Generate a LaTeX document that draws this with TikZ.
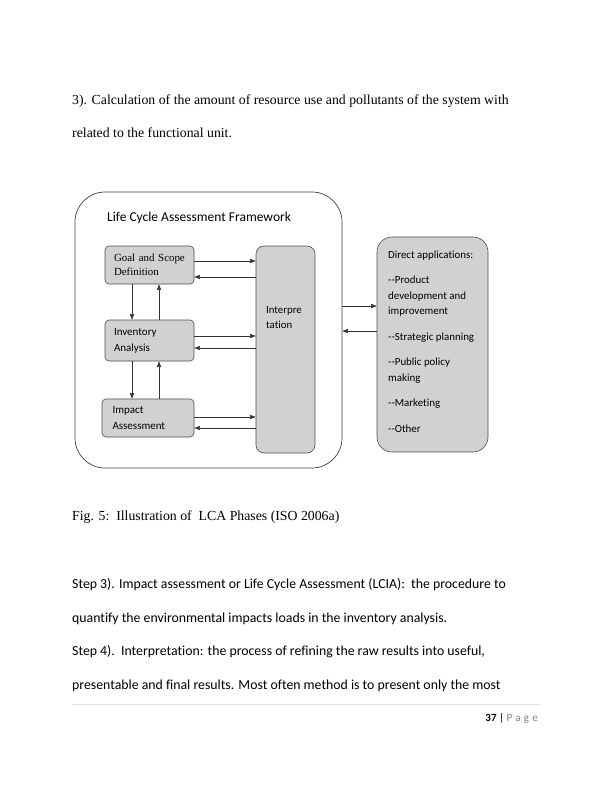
\documentclass[tikz,border=0pt]{standalone}
\usepackage{fontspec}
\setmainfont{Liberation Serif}
\newfontfamily\calibri[Ligatures=NoCommon]{Carlito}
\usetikzlibrary{arrows.meta, positioning}

\begin{document}
\begin{tikzpicture}[
                      x=1pt, y=-1pt,
                      >={Triangle[length=5.5pt, width=4pt]},
                  ]
                  \tikzset{
                      body_txt/.style = {anchor=base west, inner sep=0pt, font=\fontsize{13.8}{16}\selectfont},
                      body_cal/.style = {anchor=base west, inner sep=0pt, font=\calibri\fontsize{13.8}{17}\selectfont},
                      phase/.style = {draw=black!70, fill=black!18, rounded corners=4pt, line width=0.6pt,
                                      minimum width=89pt, minimum height=38pt, inner sep=0pt,
                                      text width=71pt, align=left, font=\calibri\fontsize{11}{16}\selectfont},
                      link/.style = {->, draw=black!80, line width=0.5pt},
                  }

                  \useasboundingbox (0,0) rectangle (612,792);

                  % Text above the figure
                  \node[body_txt] (line1) at (72,104) {3). Calculation of the amount of resource use and pollutants of the system with};
                  \node[body_txt] (line2) at (72,137) {related to the functional unit.};

                  % Framework frame
                  \node[draw=black!75, line width=0.7pt, rounded corners=30pt, minimum width=267pt,
                        minimum height=276pt, inner sep=0pt] (frame) at (208.5,330) {};
                  \node[anchor=west, inner sep=0pt, font=\calibri\fontsize{13.5}{16}\selectfont] (title) at (107,218)
                      {Life Cycle Assessment Framework};

                  % Phases
                  \node[phase, font=\fontsize{10.9}{14}\selectfont] (goal) at (149.5,265) {Goal and Scope\\Definition};
                  \node[phase, minimum height=41pt] (inv) at (149.5,340.5) {Inventory\\Analysis};
                  \node[phase, minimum width=92pt] (impact) at (148,418) {Impact\\Assessment};

                  % Interpretation
                  \node[draw=black!70, fill=black!18, rounded corners=8pt, line width=0.6pt,
                        minimum width=59pt, minimum height=207pt, inner sep=0pt] (interp) at (285.5,349.5) {};
                  \node[anchor=north west, inner sep=0pt, align=left, font=\calibri\fontsize{10.8}{15.5}\selectfont]
                      (interp_txt) at (266,306) {Interpre\\tation};

                  % Direct applications
                  \node[draw=black!70, fill=black!18, rounded corners=15pt, line width=0.6pt,
                        minimum width=111pt, minimum height=215pt, inner sep=0pt] (direct) at (432.5,344.5) {};
                  \node[anchor=north west, inner sep=0pt, align=left, font=\calibri\fontsize{10.9}{15.5}\selectfont]
                      (direct_txt) at (388,250.5) {Direct applications:\\[10pt]
                      -{}-Product\\development and\\improvement\\[10pt]
                      -{}-Strategic planning\\[10pt]
                      -{}-Public policy\\making\\[10pt]
                      -{}-Marketing\\[10pt]
                      -{}-Other};

                  % Phases to and from interpretation
                  \draw[link] ([yshift=4pt]goal.east) -- ([yshift=4pt]goal.east -| interp.west);
                  \draw[link] ([yshift=-12pt]goal.east -| interp.west) -- ([yshift=-12pt]goal.east);
                  \draw[link] ([yshift=4.5pt]inv.east) -- ([yshift=4.5pt]inv.east -| interp.west);
                  \draw[link] ([yshift=-7.5pt]inv.east -| interp.west) -- ([yshift=-7.5pt]inv.east);
                  \draw[link] ([yshift=1pt]impact.east) -- ([yshift=1pt]impact.east -| interp.west);
                  \draw[link] ([yshift=-10pt]impact.east -| interp.west) -- ([yshift=-10pt]impact.east);

                  % Between phases
                  \draw[link] ([xshift=-17.5pt]goal.south) -- ([xshift=-17.5pt]goal.south |- inv.north);
                  \draw[link] ([xshift=9.5pt]inv.north) -- ([xshift=9.5pt]inv.north |- goal.south);
                  \draw[link] ([xshift=-17.5pt]inv.south) -- ([xshift=-17.5pt]inv.south |- impact.north);
                  \draw[link] ([xshift=9.5pt]impact.north -| inv.south) -- ([xshift=9.5pt]inv.south);

                  % Framework to and from applications
                  \draw[link] ([yshift=24pt]frame.east) -- ([yshift=24pt]frame.east -| direct.west);
                  \draw[link] ([yshift=-1pt]frame.east -| direct.west) -- ([yshift=-1pt]frame.east);

                  % Caption and text below
                  \node[body_txt] (caption) at (72,520) {Fig. 5:\ \ Illustration of\ \ LCA Phases (ISO 2006a)};
                  \node[body_cal] (step3a) at (72,588) {Step 3). Impact assessment or Life Cycle Assessment (LCIA):\ \ the procedure to};
                  \node[body_cal] (step3b) at (72,622) {quantify the environmental impacts loads in the inventory analysis.};
                  \node[body_cal] (step4a) at (72,655) {Step 4).\ \ Interpretation: the process of refining the raw results into useful,};
                  \node[body_cal] (step4b) at (72,689) {presentable and final results. Most often method is to present only the most};

                  % Footer
                  \draw[black!12, line width=0.6pt] (72,704) -- (540,704);
                  \node[anchor=base east, inner sep=0pt, font=\calibri\fontsize{11}{13}\selectfont] (page_no) at (538,721)
                      {\textbf{37} | {\color{black!50}\addfontfeature{LetterSpace=30}Page}};

              \end{tikzpicture}
\end{document}
